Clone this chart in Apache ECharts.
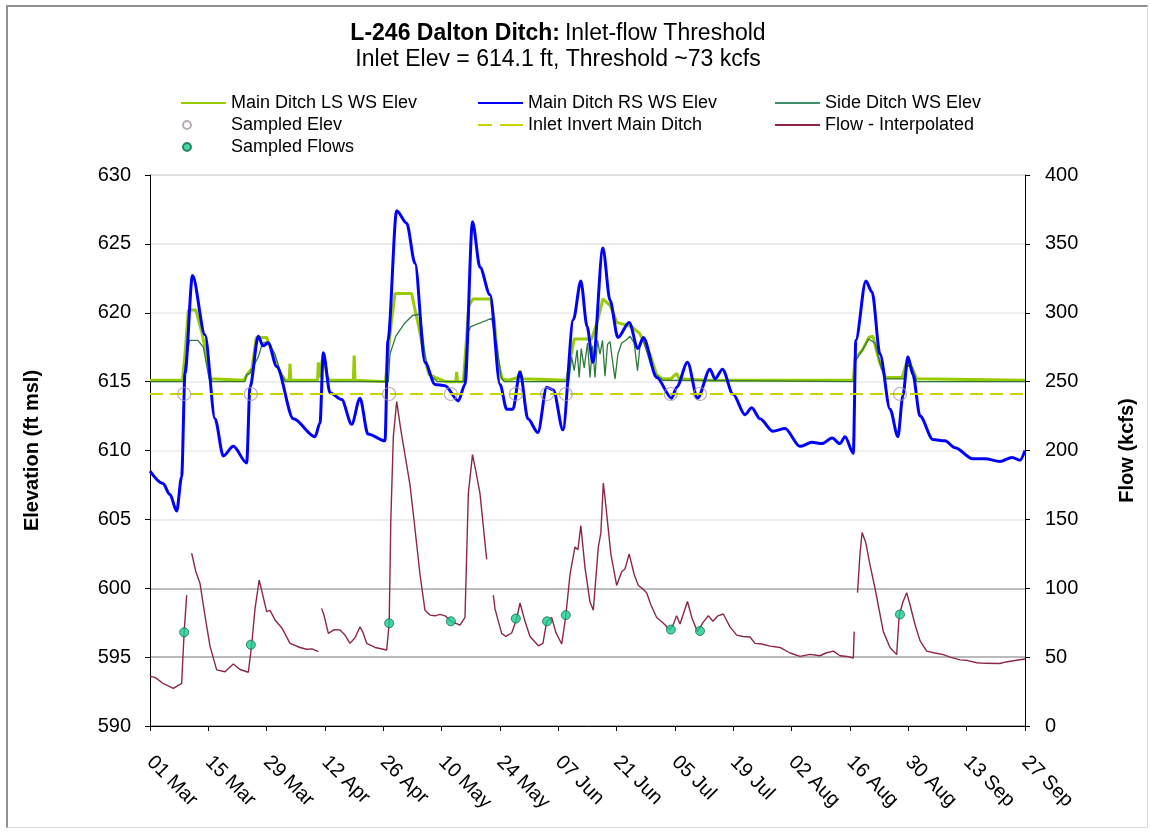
<!DOCTYPE html>
<html>
<head>
<meta charset="utf-8">
<script src="https://cdn.jsdelivr.net/npm/echarts@6/dist/echarts.min.js"></script>
<style>
  html, body { margin: 0; padding: 0; background: #fff; }
  #chart { position: absolute; left: 0; top: 0; width: 1150px; height: 835px; }
  #frame { position: absolute; left: 6px; top: 5px; width: 1139px; height: 820px;
           border-left: 2px solid #8f8f8f; border-top: 2px solid #8f8f8f;
           border-right: 1px solid #dcdcdc; border-bottom: 1px solid #dcdcdc;
           pointer-events: none; }
</style>
</head>
<body>
<div id="chart"></div>
<div id="frame"></div>
<script>
// ---- Data (x = days since 01 Mar) ----
const tickLabels = ['01 Mar','15 Mar','29 Mar','12 Apr','26 Apr','10 May','24 May','07 Jun','21 Jun','05 Jul','19 Jul','02 Aug','16 Aug','30 Aug','13 Sep','27 Sep'];

const mainLS = [[0,615.1],[7.8,615.1],[8.4,617],[9.2,620.2],[11,620.2],[12.5,618.5],[13.5,617],[14.5,615.2],[22.5,615.1],[23.5,615.6],[24.5,616],[25.5,618.2],[28,618.2],[29.5,617],[31,615.8],[32.5,615.1],[33.4,615.1],[33.6,616.3],[33.8,615.1],[40.2,615.1],[40.4,616.4],[40.7,615.3],[41.3,616.5],[41.7,617.0],[42.4,615.5],[43.0,615.1],[48.8,615.1],[49.0,616.9],[49.2,615.1],[56.5,615.0],[57.0,616.5],[57.8,619],[58.8,621.4],[62.8,621.4],[63.4,620.5],[64.5,619],[66,616.5],[67,615.5],[68.5,615.3],[71,615],[73.4,615],[73.6,615.7],[73.8,615],[75.2,615],[75.8,617.5],[76.5,620.5],[77.5,621],[81.8,621],[82.6,619.5],[83.5,616.5],[84.5,615.2],[86,615.1],[88.3,615.3],[88.8,615.8],[89.3,615.2],[100,615.1],[100.8,616.5],[101.8,618.1],[106,618.1],[107.5,619.5],[108.7,621],[110.5,620.5],[112,619.3],[115.5,619],[117.5,618.5],[120,617],[121.6,615.5],[123,615.2],[125,615.2],[126.4,615.6],[127,615.2],[134,615.1],[168.8,615.1],[169.2,616.7],[171,617.3],[172.5,618.2],[173.5,618.3],[175,616.5],[176.5,615.3],[180.5,615.3],[181.5,616.3],[182.5,616.3],[184,615.2],[210,615.1]];

const mainRS = [[0,608.5],[3.1,607.6],[4.8,606.8],[6.4,605.6],[7.6,608.1],[8.4,615.6],[10.2,622.7],[13.2,618.4],[15.6,612.3],[17.6,609.6],[20.0,610.3],[23.2,609.1],[24,614.6],[26,618.3],[27.1,617.6],[28.4,617.8],[30.4,616.1],[34.4,612.3],[39.6,611.0],[40.8,612],[41.6,617.1],[43.2,614.2],[46,613.7],[48.4,611.9],[50.4,613.8],[52.3,611.2],[56.4,610.7],[57.1,618],[59.2,627.4],[61.6,626.5],[63.6,623.6],[66,616.4],[68.4,614.8],[70.8,614.7],[74,613.6],[75.6,614.8],[77.4,626.6],[79.2,623.3],[81.6,621.3],[84,614.8],[85.6,613.0],[87.1,613.0],[88.8,615.7],[90.7,612.3],[93.1,611.3],[95.2,614.6],[96.8,614.4],[99.1,611.5],[101.6,619.5],[103.4,622.3],[104.9,619],[106.3,616.4],[108.7,624.7],[110.4,620.9],[112.3,618.2],[115,619.3],[117.1,617.4],[118.4,618.2],[121.6,615.3],[125.2,613.8],[126.4,614.6],[129,616.4],[131.4,613.8],[134.4,615.9],[135.6,615.2],[137.4,615.9],[139.9,614.1],[142.8,612.6],[144.4,613.1],[146.4,612.3],[149.5,611.4],[152.4,611.6],[156,610.3],[158.9,610.6],[161.3,610.5],[163.7,610.9],[165.6,610.5],[166.8,611.0],[168.8,609.8],[169.4,618],[171.8,622.3],[173.3,621.5],[175.2,617],[177.6,613],[179.5,611.0],[180.7,614],[181.9,616.8],[183.1,615.5],[184.8,612.5],[187.9,610.8],[190.8,610.7],[193.2,610.2],[197.5,609.4],[200.4,609.4],[204,609.2],[206.9,609.5],[208.8,609.3],[210,610.0]];

const sideDitch = [[0,615.0],[8.0,615.0],[8.6,616.5],[9.5,618.0],[11.5,618.0],[12.8,617.5],[14.2,615.2],[15,615.0],[22.8,615.0],[23.2,615.5],[24,615.6],[26,616.8],[27,617.8],[28.3,617.9],[30,617],[31.5,615.5],[32.5,615.0],[57.2,615.0],[57.6,617.0],[59,618.3],[61,619.2],[63,619.8],[64.8,619.9],[66,617],[67,615.5],[69,615.0],[75.3,615.0],[76.2,618.5],[77,619.0],[82,619.6],[83.3,617.5],[84.3,615.3],[85,615.0],[100.5,615.0],[101.2,616.8],[101.8,615.8],[102.5,617.3],[103.0,615.3],[103.5,617.4],[104.2,616.0],[105.0,617.8],[105.6,615.3],[106.2,617.6],[106.8,615.3],[107.4,618.0],[108.0,617.0],[108.6,618.0],[109.2,615.4],[109.8,617.7],[110.4,617.9],[111.0,616.5],[111.6,615.2],[112.3,617.0],[113.2,617.8],[114.2,618.0],[115.2,618.3],[116.2,617.8],[117.0,615.8],[117.6,617.6],[118.3,618.1],[119.2,617.2],[120.2,616.2],[121.5,615.5],[123,615.1],[169,615.0],[169.3,616.5],[171,617.3],[172.5,618.1],[174,617.8],[175.5,616],[176.5,615.2],[181,615.2],[181.8,616.2],[183,616],[184,615.0],[210,615.0]];

const inletInvert = [[0,614.1],[210,614.1]];

const sampleDays = [8.2,24.2,57.4,72.2,87.8,95.3,99.8,125,132,180];
const sampledElev = [614.1,614.1,614.1,614.1,614.1,614.1,614.1,614.1,614.1,614.1];
const sampledFlows = [68,59,74.6,76,78,76,80.5,70,69,81];

const flowInterp = [[0,36],[1.2,35.3],[3.1,31],[5.6,27.3],[7.6,31],[7.9,50],[8.2,68],[8.8,95],[9.2,'-'],[10.0,125.4],[11.0,112],[12.0,103.6],[13.2,80],[14.4,58],[16.0,40.7],[18.0,39.4],[20.0,45],[21.6,41],[23.6,39],[24.4,58.8],[25.2,85],[26.2,106],[28.0,83],[28.8,84],[30.0,77],[31.7,71],[33.6,60],[36.0,57],[37.6,55.7],[38.9,56],[40.4,54],[40.8,'-'],[41.2,85.4],[41.8,80],[42.8,67.3],[44.2,70],[45.6,69.7],[46.8,66],[48.0,60],[49.2,64],[50.4,72],[51.1,68],[52.0,60],[54.0,57],[56.8,55.2],[57.4,74.6],[57.8,150],[58.4,210],[59.2,235.6],[60.2,215],[61.6,189.5],[62.4,175],[63.6,143],[64.8,110],[66.0,84],[67.2,80.5],[68.4,80],[69.6,81],[70.8,80],[72.4,75.7],[74.4,73.3],[75.6,78.8],[76.4,168.7],[77.4,197],[78.2,185],[79.2,168.7],[80.8,121],[81.4,'-'],[82.4,95],[82.8,85],[84.4,67.2],[85.4,65],[86.8,67.5],[88.0,77.7],[88.8,89.3],[90.0,76],[91.2,65],[93.2,58.2],[94.3,60],[95.2,75.7],[96.4,78.8],[97.4,68],[98.8,59.5],[99.8,80],[100.8,110],[102.0,130],[102.7,128],[103.4,145.5],[104.4,115],[105.6,90],[106.4,84],[107.6,130],[108.2,140],[108.8,176.4],[109.4,160],[110.6,125],[112.0,102],[113.2,112],[114.0,114],[115.0,125],[116.2,110],[117.2,102],[118.1,100],[119.2,96.8],[120.2,88],[121.6,78.8],[123.1,75],[124.8,69.7],[125.5,73],[126.4,80],[127.2,74],[129.0,90.4],[130.1,78],[131.4,68.5],[132.7,75],[134.0,80],[135.1,76],[136.3,80],[137.6,81.3],[139.2,72],[140.8,66],[142.3,65],[144.0,64.6],[145.2,60],[146.8,59.5],[148.8,58],[151.2,57],[153.6,53],[156.0,50.5],[158.4,52],[160.8,51],[162.2,53],[164.0,54.4],[165.6,51],[167.3,50.5],[168.8,49.4],[169.0,68.5],[169.2,'-'],[169.8,96.8],[170.4,125],[170.9,140.5],[171.8,133],[172.8,117],[174.0,100],[176.0,68.5],[177.6,57],[179.2,51.8],[179.8,80],[180.7,90],[181.6,96.8],[182.4,88],[183.6,73.7],[184.8,62],[186.4,54.4],[188.4,53],[190.4,51.8],[192.0,50],[194.4,48],[196.3,47.5],[198.4,45.9],[200.4,45.5],[204.0,45.4],[205.4,46.5],[207.2,47.4],[210,48.6]];

const elevTicks = { min: 590, max: 630, step: 5 };
const flowTicks = { min: 0, max: 400, step: 50 };

// ---- Chart ----
const FONT = '"Liberation Sans", Arial, sans-serif';
const chart = echarts.init(document.getElementById('chart'), null, { renderer: 'canvas' });

const LINE_ICON = 'path://M0,5 L45,5 L45,7 L0,7 Z';
const DASH_ICON = 'path://M0,5 L14,5 L14,7 L0,7 Z M22,5 L45,5 L45,7 L22,7 Z';
const DOT_ICON = 'path://M0,0 M45,12 M2,6 A4,4 0 1 1 10,6 A4,4 0 1 1 2,6 Z';
const legendText = { fontFamily: FONT, fontSize: 18, color: '#000', lineHeight: 18 };
const legendBase = { orient: 'vertical', top: 89, itemWidth: 45, itemHeight: 12, itemGap: 4,
  textStyle: legendText, selectedMode: false };

chart.setOption({
  animation: false,
  backgroundColor: '#ffffff',
  textStyle: { fontFamily: FONT },
  title: {
    left: 553, top: 16, textAlign: 'center',
    text: '{b|L-246 Dalton Ditch:} {n|Inlet-flow Threshold}\n{n|Inlet Elev = 614.1 ft, Threshold ~73 kcfs}',
    textStyle: {
      fontWeight: 'normal',
      rich: {
        b: { fontFamily: FONT, fontSize: 23, fontWeight: 'bold', color: '#000', lineHeight: 26 },
        n: { fontFamily: FONT, fontSize: 23, fontWeight: 'normal', color: '#000', lineHeight: 26 }
      }
    }
  },
  legend: [
    Object.assign({}, legendBase, { left: 175, data: [
      { name: 'Main Ditch LS WS Elev', icon: LINE_ICON },
      { name: 'Sampled Elev', icon: DOT_ICON },
      { name: 'Sampled Flows', icon: DOT_ICON }
    ] }),
    Object.assign({}, legendBase, { left: 473, data: [
      { name: 'Main Ditch RS WS Elev', icon: LINE_ICON },
      { name: 'Inlet Invert Main Ditch', icon: DASH_ICON }
    ] }),
    Object.assign({}, legendBase, { left: 770, data: [
      { name: 'Side Ditch WS Elev', icon: LINE_ICON },
      { name: 'Flow - Interpolated', icon: LINE_ICON }
    ] })
  ],
  grid: { left: 150, right: 125, top: 175, bottom: 109, containLabel: false },
  xAxis: {
    type: 'value', min: 0, max: 210, interval: 14,
    axisLine: { lineStyle: { color: '#000', width: 1 } },
    axisTick: { show: true, length: 5, lineStyle: { color: '#000' } },
    splitLine: { show: false },
    axisLabel: {
      rotate: -45, margin: 33, fontFamily: FONT, fontSize: 20, color: '#000',
      formatter: v => tickLabels[Math.round(v / 14)] || ''
    }
  },
  yAxis: [
    {
      type: 'value', min: elevTicks.min, max: elevTicks.max, interval: elevTicks.step,
      name: 'Elevation (ft msl)', nameLocation: 'middle', nameGap: 108,
      nameTextStyle: { fontFamily: FONT, fontSize: 20, fontWeight: 'bold', color: '#000' },
      axisLine: { show: true, lineStyle: { color: '#000' } },
      axisTick: { show: true, length: 5, lineStyle: { color: '#000' } },
      axisLabel: { margin: 19, fontFamily: FONT, fontSize: 20, color: '#000' },
      splitLine: { show: true, lineStyle: { width: 1.5,
        color: ['#9a9a9a', '#a3a3a3', '#a8a8a8', '#e6e6e6', '#ebebeb', '#ebebeb', '#ebebeb', '#e3e3e3', '#d6d6d6'] } }
    },
    {
      type: 'value', min: flowTicks.min, max: flowTicks.max, interval: flowTicks.step,
      name: 'Flow (kcfs)', nameLocation: 'middle', nameGap: 92, position: 'right',
      nameTextStyle: { fontFamily: FONT, fontSize: 20, fontWeight: 'bold', color: '#000' },
      axisLine: { show: true, lineStyle: { color: '#000' } },
      axisTick: { show: true, length: 5, lineStyle: { color: '#000' } },
      axisLabel: { margin: 20, fontFamily: FONT, fontSize: 20, color: '#000' },
      splitLine: { show: false }
    }
  ],
  series: [
    {
      name: 'Main Ditch LS WS Elev', type: 'line', yAxisIndex: 0, data: mainLS,
      showSymbol: false, symbol: 'none', z: 2,
      lineStyle: { color: '#99cc00', width: 3 }, itemStyle: { color: '#99cc00' }
    },
    {
      name: 'Side Ditch WS Elev', type: 'line', yAxisIndex: 0, data: sideDitch,
      showSymbol: false, symbol: 'none', z: 3,
      lineStyle: { color: '#2f7a3a', width: 1.3 }, itemStyle: { color: '#3f8f6a' }
    },
    {
      name: 'Main Ditch RS WS Elev', type: 'line', yAxisIndex: 0, data: mainRS,
      showSymbol: false, symbol: 'none', smooth: 0.3, smoothMonotone: 'x', z: 4,
      lineStyle: { color: '#0000ff', width: 3 }, itemStyle: { color: '#0000ff' }
    },
    {
      name: 'Inlet Invert Main Ditch', type: 'line', yAxisIndex: 0, data: inletInvert,
      showSymbol: false, symbol: 'none', z: 5,
      lineStyle: { color: '#c8d400', width: 2, type: [13, 7] }, itemStyle: { color: '#c8d400' }
    },
    {
      name: 'Sampled Elev', type: 'scatter', yAxisIndex: 0,
      data: sampleDays.map((d, i) => [d, sampledElev[i]]),
      symbol: 'circle', symbolSize: 13, z: 6,
      itemStyle: { color: 'rgba(255,255,255,0)', borderColor: '#a898a6', borderWidth: 1.2 }
    },
    {
      name: 'Flow - Interpolated', type: 'line', yAxisIndex: 1, data: flowInterp,
      showSymbol: false, symbol: 'none', connectNulls: false, z: 7,
      lineStyle: { color: '#8c2846', width: 1.4 }, itemStyle: { color: '#8c2846' }
    },
    {
      name: 'Sampled Flows', type: 'scatter', yAxisIndex: 1,
      data: sampleDays.map((d, i) => [d, sampledFlows[i]]),
      symbol: 'circle', symbolSize: 9, z: 8,
      itemStyle: { color: '#14d08c', borderColor: '#1a6650', borderWidth: 1 }
    }
  ]
});
</script>
</body>
</html>
